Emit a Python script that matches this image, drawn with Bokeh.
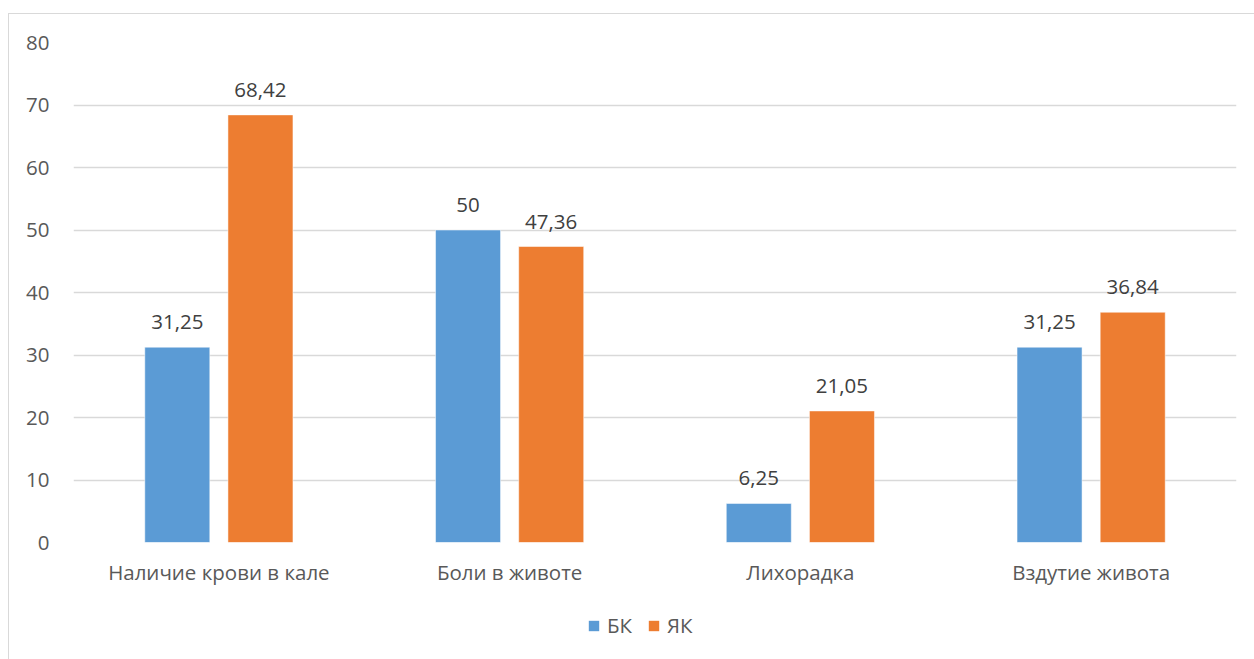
from bokeh.plotting import figure
from bokeh.layouts import column
from bokeh.models import (ColumnDataSource, FactorRange, Range1d, Legend, LegendItem,
                          FixedTicker)
from bokeh.transform import dodge
from bokeh.embed import file_html
from bokeh.resources import INLINE
from bokeh.core.properties import value

# Symptom frequency (%) for Crohn's disease (БК) and ulcerative colitis (ЯК)
categories = ["Наличие крови в кале", "Боли в животе", "Лихорадка", "Вздутие живота"]
series_names = ["БК", "ЯК"]
bk_values = [31.25, 50, 6.25, 31.25]
yak_values = [68.42, 47.36, 21.05, 36.84]
y_ticks = [0, 10, 20, 30, 40, 50, 60, 70, 80]

BLUE = "#5B9BD5"
ORANGE = "#ED7D31"
FONT = "Open Sans"
FS = "20.5px"
W = 1245


def fmt(v):
    return f"{v:g}".replace(".", ",")


src = ColumnDataSource(dict(
    cat=categories,
    bk=bk_values,
    yak=yak_values,
    bk_lbl=[fmt(v) for v in bk_values],
    yak_lbl=[fmt(v) for v in yak_values],
))

p = figure(
    width=W, height=586,
    x_range=FactorRange(factors=categories, range_padding=0),
    y_range=Range1d(0, 80),
    output_backend="svg", toolbar_location=None,
    min_border_left=64, min_border_right=18, min_border_top=28, min_border_bottom=58,
    background_fill_color="white", border_fill_color="white",
)
p.outline_line_color = None

offset = 0.143
bar_w = 0.2236
p.vbar(x=dodge("cat", -offset, range=p.x_range), top="bk", width=bar_w,
       source=src, fill_color=BLUE, line_color="white", line_width=0.5)
p.vbar(x=dodge("cat", offset, range=p.x_range), top="yak", width=bar_w,
       source=src, fill_color=ORANGE, line_color="white", line_width=0.5)

# value labels above bars
for col, lbl, off in (("bk", "bk_lbl", -offset), ("yak", "yak_lbl", offset)):
    p.text(x=dodge("cat", off, range=p.x_range), y=col, text=lbl, source=src,
           text_align="center", text_baseline="alphabetic", y_offset=-25,
           text_font=value(FONT), text_font_size=FS, text_color="#404040")

# grid
p.xgrid.grid_line_color = None
p.ygrid.ticker = FixedTicker(ticks=y_ticks)
p.ygrid.grid_line_color = "#D9D9D9"
p.ygrid.grid_line_width = 1.3

# y axis
p.yaxis.ticker = FixedTicker(ticks=y_ticks)
p.yaxis.axis_line_color = None
p.yaxis.major_tick_line_color = None
p.yaxis.minor_tick_line_color = None
p.yaxis.major_tick_out = 0
p.yaxis.major_label_standoff = 24
p.yaxis.major_label_text_font = FONT
p.yaxis.major_label_text_font_size = FS
p.yaxis.major_label_text_color = "#595959"

# x axis
p.xaxis.axis_line_color = None
p.xaxis.major_tick_line_color = None
p.xaxis.major_tick_out = 0
p.xaxis.major_label_standoff = 15
p.xaxis.major_label_text_font = FONT
p.xaxis.major_label_text_font_size = FS
p.xaxis.major_label_text_color = "#595959"

# legend strip below the chart; its bars stand above the strip's view, so only
# the legend swatches show
lf = figure(
    width=W, height=80, x_range=p.x_range, y_range=Range1d(-1, 0),
    output_backend="svg", toolbar_location=None,
    x_axis_location=None, y_axis_location=None,
    min_border=0, background_fill_color="white", border_fill_color="white",
)
lf.outline_line_color = None
lf.grid.visible = False
k_bk = lf.vbar(x=dodge("cat", -offset, range=lf.x_range), top="bk", width=bar_w,
               source=src, fill_color=BLUE, line_color=None)
k_yak = lf.vbar(x=dodge("cat", offset, range=lf.x_range), top="yak", width=bar_w,
                source=src, fill_color=ORANGE, line_color=None)
legend = Legend(
    items=[LegendItem(label=series_names[0], renderers=[k_bk]),
           LegendItem(label=series_names[1], renderers=[k_yak])],
    orientation="horizontal", location=(514, 41),
    glyph_width=13, glyph_height=13, label_standoff=7, spacing=15,
    label_text_font=FONT, label_text_font_size=FS, label_text_color="#595959",
    border_line_color=None, background_fill_alpha=0,
    padding=0, margin=0,
)
lf.add_layout(legend, "center")

# chart box: it runs past the right and lower page edges
layout = column(p, lf, spacing=0,
                styles={"margin-left": "8px", "margin-top": "13px",
                        "border-left": "1px solid #D9D9D9",
                        "border-top": "1px solid #D9D9D9"})

html = file_html(layout, INLINE)
html = html.replace("<body>", '<body style="margin:0;overflow:hidden">', 1)
open("out.html", "w").write(html)
